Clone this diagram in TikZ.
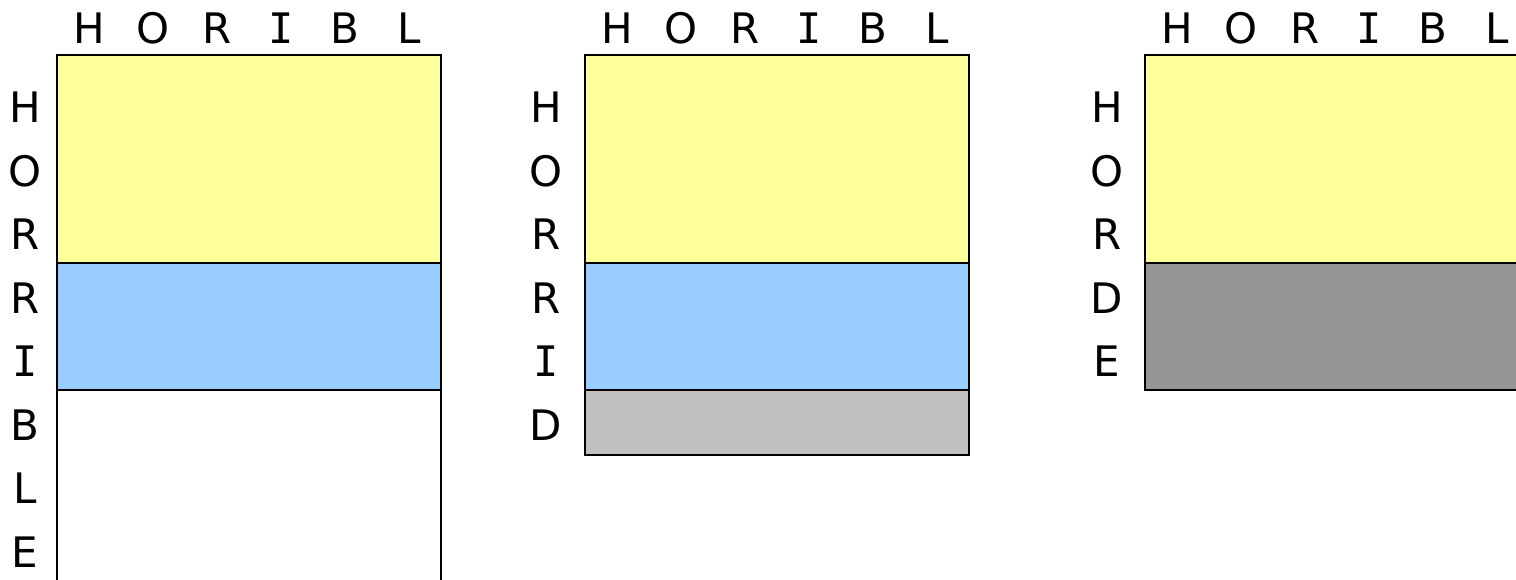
\documentclass[tikz,border=0pt]{standalone}
\usepackage{fontspec}
\setmainfont{DejaVu Sans}
\newfontfamily\monoI{DejaVu Sans Mono}
\definecolor{yel}{HTML}{FFFF99}
\definecolor{blu}{HTML}{99CCFF}
\definecolor{gryA}{HTML}{C0C0C0}
\definecolor{gryB}{HTML}{969696}
\begin{document}
\begin{tikzpicture}[x=1pt,y=-1pt,
  lab/.style={inner sep=0pt,font=\fontsize{42}{50}\selectfont},
  band/.style={draw=black,line width=2pt},
  frame/.style={draw=black,line width=2.2pt}]
\useasboundingbox (0,0) rectangle (1516,580);
\newcommand{\II}{{\monoI I}}
% ---------- panel 1 ----------
\fill[yel] (57,55) rectangle (441,263);
\fill[blu] (57,263) rectangle (441,390);
\fill[white] (57,390) rectangle (441,585);
\draw[band] (57,263) -- (441,263);
\draw[band] (57,390) -- (441,390);
\draw[frame] (57,585) -- (57,55) -- (441,55) -- (441,585);
\foreach \l [count=\i] in {H,O,R,\II,B,L}
  \node[lab] (pa-top-\i) at ({57+64*\i-32},28) {\l};
\foreach \l [count=\i] in {H,O,R,R,\II,B,L,E}
  \node[lab] (pa-left-\i) at (25,{107.5+63.5*(\i-1)}) {\l};
% ---------- panel 2 ----------
\fill[yel] (585,55) rectangle (969,263);
\fill[blu] (585,263) rectangle (969,390);
\fill[gryA] (585,390) rectangle (969,455);
\draw[band] (585,263) -- (969,263);
\draw[band] (585,390) -- (969,390);
\draw[frame] (585,55) rectangle (969,455);
\foreach \l [count=\i] in {H,O,R,\II,B,L}
  \node[lab] (pb-top-\i) at ({585+64*\i-32},28) {\l};
\foreach \l [count=\i] in {H,O,R,R,\II,D}
  \node[lab] (pb-left-\i) at (546,{107.5+63.5*(\i-1)}) {\l};
% ---------- panel 3 ----------
\fill[yel] (1145,55) rectangle (1530,263);
\fill[gryB] (1145,263) rectangle (1530,390);
\draw[band] (1145,263) -- (1530,263);
\draw[frame] (1530,55) -- (1145,55) -- (1145,390) -- (1530,390);
\foreach \l [count=\i] in {H,O,R,\II,B,L}
  \node[lab] (pc-top-\i) at ({1145+64*\i-32},28) {\l};
\foreach \l [count=\i] in {H,O,R,D,E}
  \node[lab] (pc-left-\i) at (1107,{107.5+63.5*(\i-1)}) {\l};
\end{tikzpicture}
\end{document}
